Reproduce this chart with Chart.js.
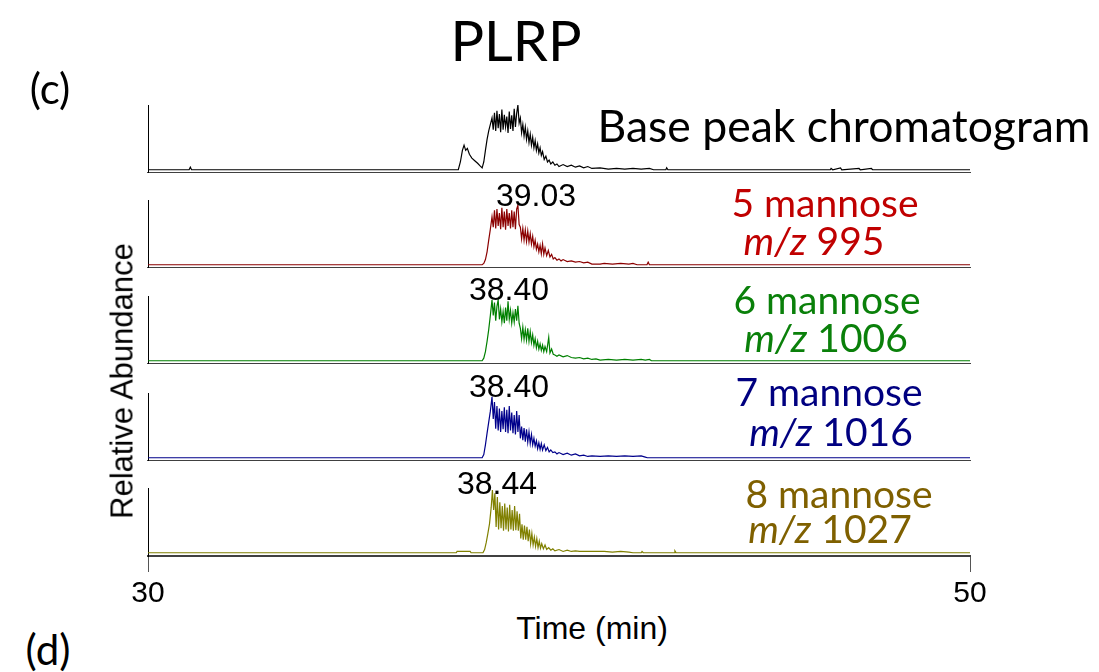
<!DOCTYPE html>
<html>
<head>
<meta charset="utf-8">
<script src="https://cdn.jsdelivr.net/npm/chart.js@4.4.1/dist/chart.umd.min.js"></script>
<style>
  body { margin: 0; background: #fff; }
  #wrap { position: relative; width: 1099px; height: 672px; overflow: hidden; background: #fff; }
  .panel { position: absolute; left: 0; }
  .txt { position: absolute; white-space: nowrap; line-height: 1; transform: translate(-50%, -50%); }
  .cal { font-family: Lato, "Open Sans", sans-serif; }
  .ari { font-family: "Liberation Sans", Arial, sans-serif; }
</style>
</head>
<body>
<div id="wrap">
  <canvas id="bpc" class="panel"></canvas>
  <canvas id="m5" class="panel"></canvas>
  <canvas id="m6" class="panel"></canvas>
  <canvas id="m7" class="panel"></canvas>
  <canvas id="m8" class="panel"></canvas>

  <div class="txt cal" style="left:516px; top:40px; font-size:56px;">PLRP</div>
  <div class="txt cal" style="left:50px; top:88px; font-size:42px;">(c)</div>
  <div class="txt cal" style="left:48px; top:649px; font-size:42px;">(d)</div>

  <div class="txt cal" style="left:844px; top:125px; font-size:44.5px;">Base peak chromatogram</div>
  <div class="txt cal" style="left:825px; top:202px; font-size:39px; color:#c00000;">5 mannose</div>
  <div class="txt cal" style="left:814px; top:240px; font-size:39px; color:#c00000;"><i>m/z</i> 995</div>
  <div class="txt cal" style="left:827px; top:299px; font-size:39px; color:#0a800a;">6 mannose</div>
  <div class="txt cal" style="left:826px; top:337px; font-size:39px; color:#0a800a;"><i>m/z</i> 1006</div>
  <div class="txt cal" style="left:829px; top:391px; font-size:39px; color:#000080;">7 mannose</div>
  <div class="txt cal" style="left:831px; top:431px; font-size:39px; color:#000080;"><i>m/z</i> 1016</div>
  <div class="txt cal" style="left:839px; top:493px; font-size:39px; color:#7f6000;">8 mannose</div>
  <div class="txt cal" style="left:830px; top:528px; font-size:39px; color:#7f6000;"><i>m/z</i> 1027</div>

  <div class="txt ari" style="left:536px; top:195px; font-size:32px;">39.03</div>
  <div class="txt ari" style="left:509px; top:289px; font-size:32px;">38.40</div>
  <div class="txt ari" style="left:509px; top:386px; font-size:32px;">38.40</div>
  <div class="txt ari" style="left:497px; top:483px; font-size:32px;">38.44</div>

  <div class="txt ari" style="left:122px; top:381px; font-size:31px; transform: translate(-50%, -50%) rotate(-90deg);">Relative Abundance</div>
  <div class="txt ari" style="left:592px; top:628px; font-size:32px;">Time (min)</div>
</div>

<script>
// retention time (min) / relative abundance (%) pairs
const basePeak = [[30,0],[31.0,0],[31.03,4],[31.06,0],[37.55,0],[37.6,12],[37.65,30],[37.69,38],[37.73,30],[37.77,33],[37.82,24],[37.88,18],[37.95,14],[38.02,10],[38.08,6],[38.13,3],[38.17,12],[38.21,30],[38.25,47],[38.29,60],[38.33,70],[38.37,80],
  [38.40,62],[38.43,88],[38.46,60],[38.49,91],[38.52,64],[38.55,86],[38.58,58],[38.61,93],[38.64,62],[38.67,85],[38.70,66],[38.73,82],[38.76,57],[38.79,90],[38.82,63],[38.85,84],[38.88,60],[38.91,94],[38.94,66],[38.97,87],[39.00,100],[39.03,72],
  [39.06,80],[39.09,57],[39.12,70],[39.15,52],[39.18,66],[39.21,47],[39.24,60],[39.27,42],[39.30,55],[39.33,38],[39.36,50],[39.39,34],[39.42,45],[39.45,30],[39.48,40],[39.51,26],[39.54,34],[39.57,22],[39.60,28],[39.64,16],[39.68,21],[39.72,12],[39.76,15],[39.80,9],[39.85,12],[39.90,7],[39.95,9],
  [40.0,5],[40.1,8],[40.2,5],[40.3,7],[40.4,4],[40.5,6],[40.6,3],[40.7,5],[40.8,2],[41.0,3],[41.2,1],[41.4,2],[41.6,1],[41.8,2],[42.0,1],[42.2,2],[42.3,0],[42.6,0],[42.62,3],[42.65,0],[46.6,0],[46.62,2],[46.66,0],[46.85,3],[46.88,0],[47.3,2],[47.33,0],[47.6,2],[47.63,0],[50,0]];

const man5 = [[30,0],[38.13,0],[38.17,2],[38.21,8],[38.25,20],[38.29,38],[38.33,55],[38.37,74],[38.40,58],[38.43,84],[38.46,56],[38.49,86],[38.52,60],[38.55,80],[38.58,55],[38.61,88],[38.64,58],[38.67,82],[38.70,54],[38.73,86],[38.76,60],[38.79,80],[38.82,56],[38.85,84],[38.88,58],[38.91,82],[38.94,55],[38.97,86],[39.00,92],[39.03,62],
  [39.06,58],[39.09,40],[39.12,56],[39.15,38],[39.18,54],[39.21,36],[39.24,52],[39.27,35],[39.30,48],[39.33,32],[39.36,44],[39.39,28],[39.42,38],[39.45,24],[39.48,32],[39.51,20],[39.54,30],[39.57,17],[39.60,32],[39.63,16],[39.66,26],[39.70,14],[39.74,22],[39.78,12],[39.82,16],[39.86,9],[39.90,11],[39.95,7],
  [40.0,9],[40.05,6],[40.1,8],[40.2,5],[40.3,6],[40.4,4],[40.5,5],[40.6,3],[40.7,4],[40.8,1],[41.0,1],[41.1,2],[41.3,1],[41.5,2],[41.7,1],[41.8,2],[41.9,0],[42.14,0],[42.17,4],[42.2,0],[50,0]];

const man6 = [[30,0],[38.13,0],[38.17,4],[38.21,14],[38.25,30],[38.29,48],[38.33,70],[38.37,94],[38.40,70],[38.43,90],[38.46,62],[38.49,84],[38.52,94],[38.55,64],[38.58,80],[38.61,60],[38.64,76],[38.67,58],[38.70,82],[38.73,62],[38.76,92],[38.79,64],[38.82,78],[38.85,58],[38.88,74],[38.91,60],[38.94,80],[38.97,62],[39.00,85],[39.03,58],
  [39.06,50],[39.09,34],[39.12,52],[39.15,33],[39.18,48],[39.21,32],[39.24,50],[39.27,30],[39.30,45],[39.33,28],[39.36,40],[39.39,24],[39.42,34],[39.45,20],[39.48,30],[39.51,18],[39.54,26],[39.57,16],[39.60,24],[39.63,14],[39.66,22],[39.70,14],[39.75,36],[39.78,12],[39.82,18],[39.86,10],[39.90,9],[39.95,7],
  [40.0,9],[40.1,6],[40.2,8],[40.3,5],[40.4,4],[40.5,5],[40.6,3],[40.7,4],[40.8,2],[40.9,3],[41.0,1],[41.2,2],[41.4,1],[41.6,2],[41.8,1],[42.0,2],[42.1,1],[42.2,2],[42.25,0],[50,0]];

const man7 = [[30,0],[38.13,0],[38.17,5],[38.21,20],[38.25,38],[38.29,55],[38.33,72],[38.37,94],[38.40,60],[38.43,86],[38.46,45],[38.49,80],[38.52,42],[38.55,76],[38.58,40],[38.61,72],[38.64,44],[38.67,78],[38.70,40],[38.73,74],[38.76,38],[38.79,80],[38.82,42],[38.85,70],[38.88,38],[38.91,66],[38.94,36],[38.97,72],[39.00,40],[39.03,66],
  [39.06,30],[39.09,48],[39.12,27],[39.15,46],[39.18,25],[39.21,44],[39.24,24],[39.27,40],[39.30,22],[39.33,36],[39.36,20],[39.39,30],[39.42,18],[39.45,26],[39.48,14],[39.51,23],[39.54,13],[39.57,22],[39.60,12],[39.64,20],[39.68,11],[39.72,16],[39.76,9],[39.80,12],[39.85,8],[39.90,9],[39.95,6],
  [40.0,8],[40.1,5],[40.2,7],[40.3,4],[40.4,6],[40.5,3],[40.6,4],[40.7,2],[40.8,3],[41.0,2],[41.2,3],[41.4,2],[41.6,3],[41.8,2],[42.0,3],[42.1,1],[42.15,0],[50,0]];

const man8 = [[30,0],[37.5,0],[37.52,2],[37.84,2],[37.86,0],[38.15,0],[38.19,5],[38.23,16],[38.27,30],[38.31,45],[38.35,70],[38.38,97],[38.41,66],[38.44,92],[38.47,40],[38.50,86],[38.53,36],[38.56,78],[38.59,38],[38.62,72],[38.65,34],[38.68,76],[38.71,36],[38.74,70],[38.77,33],[38.80,74],[38.83,36],[38.86,66],[38.89,34],[38.92,72],[38.95,35],[38.98,64],[39.01,34],[39.04,60],
  [39.07,22],[39.10,44],[39.13,20],[39.16,42],[39.19,20],[39.22,40],[39.25,18],[39.28,36],[39.31,14],[39.34,30],[39.37,12],[39.40,24],[39.43,10],[39.46,22],[39.49,8],[39.52,18],[39.55,7],[39.58,14],[39.62,6],[39.66,12],[39.70,5],[39.75,8],[39.80,4],[39.85,6],[39.90,3],
  [40.0,5],[40.1,2],[40.2,4],[40.3,2],[40.4,3],[40.5,2],[40.7,2],[40.9,2],[41.1,2],[41.3,1],[41.5,2],[41.7,1],[41.8,0],[42.0,0],[42.02,2],[42.05,0],[42.8,0],[42.82,3],[42.85,0],[50,0]];

const xTicks = [30, 50];

// panel id, trace, line colour, top and height of canvas
const panels = [
  { id: 'bpc', data: basePeak, color: '#000000', top: 105, height: 68 },
  { id: 'm5', data: man5, color: '#8b0000', top: 200, height: 68 },
  { id: 'm6', data: man6, color: '#008000', top: 296, height: 68 },
  { id: 'm7', data: man7, color: '#00008b', top: 393, height: 68 },
  { id: 'm8', data: man8, color: '#808000', top: 488, height: 121, bottom: true }
];

panels.forEach(p => {
  const canvas = document.getElementById(p.id);
  canvas.width = 1099;
  canvas.height = p.height;
  canvas.style.top = p.top + 'px';
  canvas.style.width = '1099px';
  canvas.style.height = p.height + 'px';

  new Chart(canvas.getContext('2d'), {
    type: 'line',
    data: {
      datasets: [{
        data: p.data.map(d => ({ x: d[0], y: d[1] })),
        borderColor: p.color,
        borderWidth: 1.2,
        pointRadius: 0,
        tension: 0,
        fill: false
      }]
    },
    options: {
      responsive: false,
      animation: false,
      devicePixelRatio: 1,
      layout: { padding: { left: 148, right: 129, top: 0, bottom: 0 } },
      plugins: { legend: { display: false }, tooltip: { enabled: false } },
      scales: {
        x: {
          type: 'linear',
          min: 30,
          max: 50,
          afterBuildTicks: axis => { axis.ticks = xTicks.map(v => ({ value: v })); },
          // fixed axis height so every panel's plot area is 68px tall
          afterFit: axis => { if (p.bottom) axis.height = 53; },
          border: { display: true, color: '#404040', width: 2 },
          grid: { display: !!p.bottom, drawOnChartArea: false, drawTicks: !!p.bottom, tickLength: 16, color: '#555' },
          ticks: {
            display: !!p.bottom,
            color: '#000',
            padding: 4,
            maxRotation: 0,
            font: { family: '"Liberation Sans", Arial', size: 30 }
          }
        },
        y: {
          min: -5,
          max: 100,
          border: { display: true, color: '#000', width: 1 },
          grid: { display: false, drawTicks: false },
          ticks: { display: false }
        }
      }
    }
  });
});
</script>
</body>
</html>
